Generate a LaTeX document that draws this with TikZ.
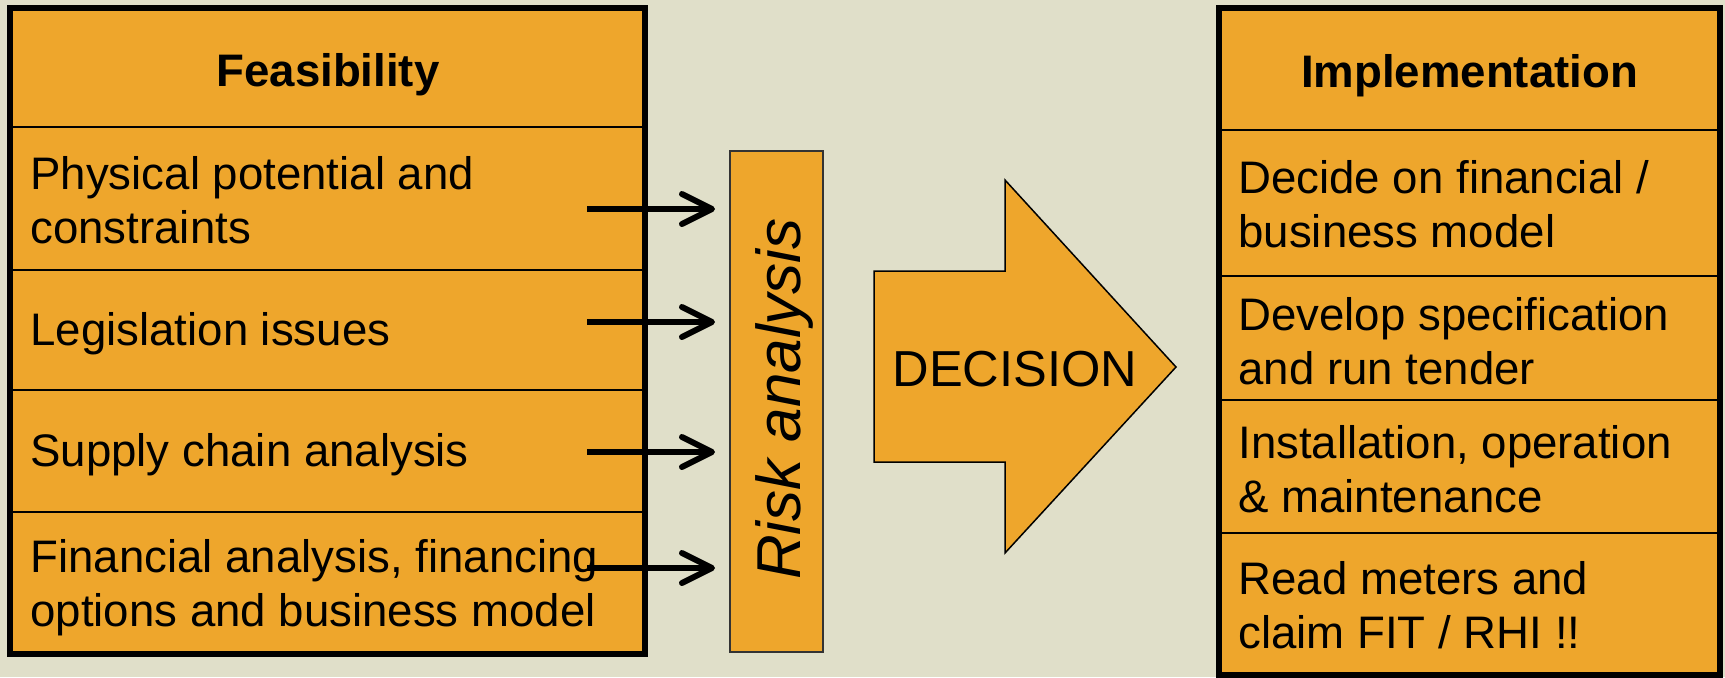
\documentclass[tikz,border=0pt]{standalone}
\usepackage{fontspec}
\setmainfont{Liberation Sans}
\usetikzlibrary{arrows.meta}
\definecolor{bgc}{RGB}{224,223,201}
\definecolor{orng}{RGB}{238,166,44}
\begin{document}
\begin{tikzpicture}[x=0.5pt,y=-0.5pt,
  rowbox/.style={draw=black, line width=1.25pt, fill=orng, anchor=north west, inner sep=0pt, outer sep=0pt},
  outerbox/.style={draw=black, line width=2.9pt, anchor=north west, inner sep=0pt, outer sep=0pt},
  txt/.style={font=\fontsize{22.8}{27}\selectfont, anchor=base west, inner sep=0pt},
  hd/.style={font=\fontsize{22.8}{27}\selectfont\bfseries, anchor=base, inner sep=0pt},
  arr/.style={line width=3pt, -{Straight Barb[length=15pt,width=15pt,round]}},
  shapeline/.style={draw=black, line width=0.75pt, fill=orng}]
\path[fill=bgc, use as bounding box] (0,0) rectangle (1725,677);

% Feasibility table
\node[rowbox, minimum width=317.5pt, minimum height=59.5pt] (f0) at (10,8) {};
\node[rowbox, minimum width=317.5pt, minimum height=71.5pt] (f1) at (10,127) {};
\node[rowbox, minimum width=317.5pt, minimum height=60pt] (f2) at (10,270) {};
\node[rowbox, minimum width=317.5pt, minimum height=61pt] (f3) at (10,390) {};
\node[rowbox, minimum width=317.5pt, minimum height=71pt] (f4) at (10,512) {};
\node[outerbox, minimum width=317.5pt, minimum height=323pt] (feas) at (10,8) {};

\node[hd] (fh) at (328,86) {Feasibility};
\node[txt] (t1a) at (30,189) {Physical potential and};
\node[txt] (t1b) at (30,243) {constraints};
\node[txt] (t2) at (30,345) {Legislation issues};
\node[txt] (t3) at (30,466) {Supply chain analysis};
\node[txt] (t4a) at (30,572) {Financial analysis, financing};
\node[txt] (t4b) at (30,626) {options and business model};

% Implementation table
\node[rowbox, minimum width=250.5pt, minimum height=61pt] (i0) at (1219,8) {};
\node[rowbox, minimum width=250.5pt, minimum height=73pt] (i1) at (1219,130) {};
\node[rowbox, minimum width=250.5pt, minimum height=62pt] (i2) at (1219,276) {};
\node[rowbox, minimum width=250.5pt, minimum height=66.5pt] (i3) at (1219,400) {};
\node[rowbox, minimum width=250.5pt, minimum height=71pt] (i4) at (1219,533) {};
\node[outerbox, minimum width=250.5pt, minimum height=333.5pt] (impl) at (1219,8) {};

\node[hd] (ih) at (1469.5,87) {Implementation};
\node[txt] (u1a) at (1238,193) {Decide on financial /};
\node[txt] (u1b) at (1238,247) {business model};
\node[txt] (u2a) at (1238,330) {Develop specification};
\node[txt] (u2b) at (1238,384) {and run tender};
\node[txt] (u3a) at (1238,458) {Installation, operation};
\node[txt] (u3b) at (1238,512) {\& maintenance};
\node[txt] (u4a) at (1238,594) {Read meters and};
\node[txt] (u4b) at (1238,648) {claim FIT / RHI !!};

% Risk analysis box
\node[rowbox, line width=0.75pt, draw=black!80, minimum width=46.5pt, minimum height=250.5pt] (risk) at (730,151) {};
\node[font=\fontsize{31}{36}\selectfont\itshape, rotate=90, anchor=base, inner sep=0pt] (risklbl) at (800,399) {Risk analysis};

% Arrows
\coordinate (a1s) at (587,209); \coordinate (a1e) at (715,209);
\coordinate (a2s) at (587,322); \coordinate (a2e) at (715,322);
\coordinate (a3s) at (587,452); \coordinate (a3e) at (715,452);
\coordinate (a4s) at (587,568); \coordinate (a4e) at (715,568);
\draw[arr] (a1s) -- (a1e);
\draw[arr] (a2s) -- (a2e);
\draw[arr] (a3s) -- (a3e);
\draw[arr] (a4s) -- (a4e);

% Decision arrow
\draw[shapeline] (874,271) -- (1005,271) -- (1005,180) -- (1176,367) -- (1005,553) -- (1005,462) -- (874,462) -- cycle;
\node[font=\fontsize{25.3}{30}\selectfont, anchor=base, inner sep=0pt] (dec) at (1015,386) {DECISION};
\end{tikzpicture}
\end{document}
